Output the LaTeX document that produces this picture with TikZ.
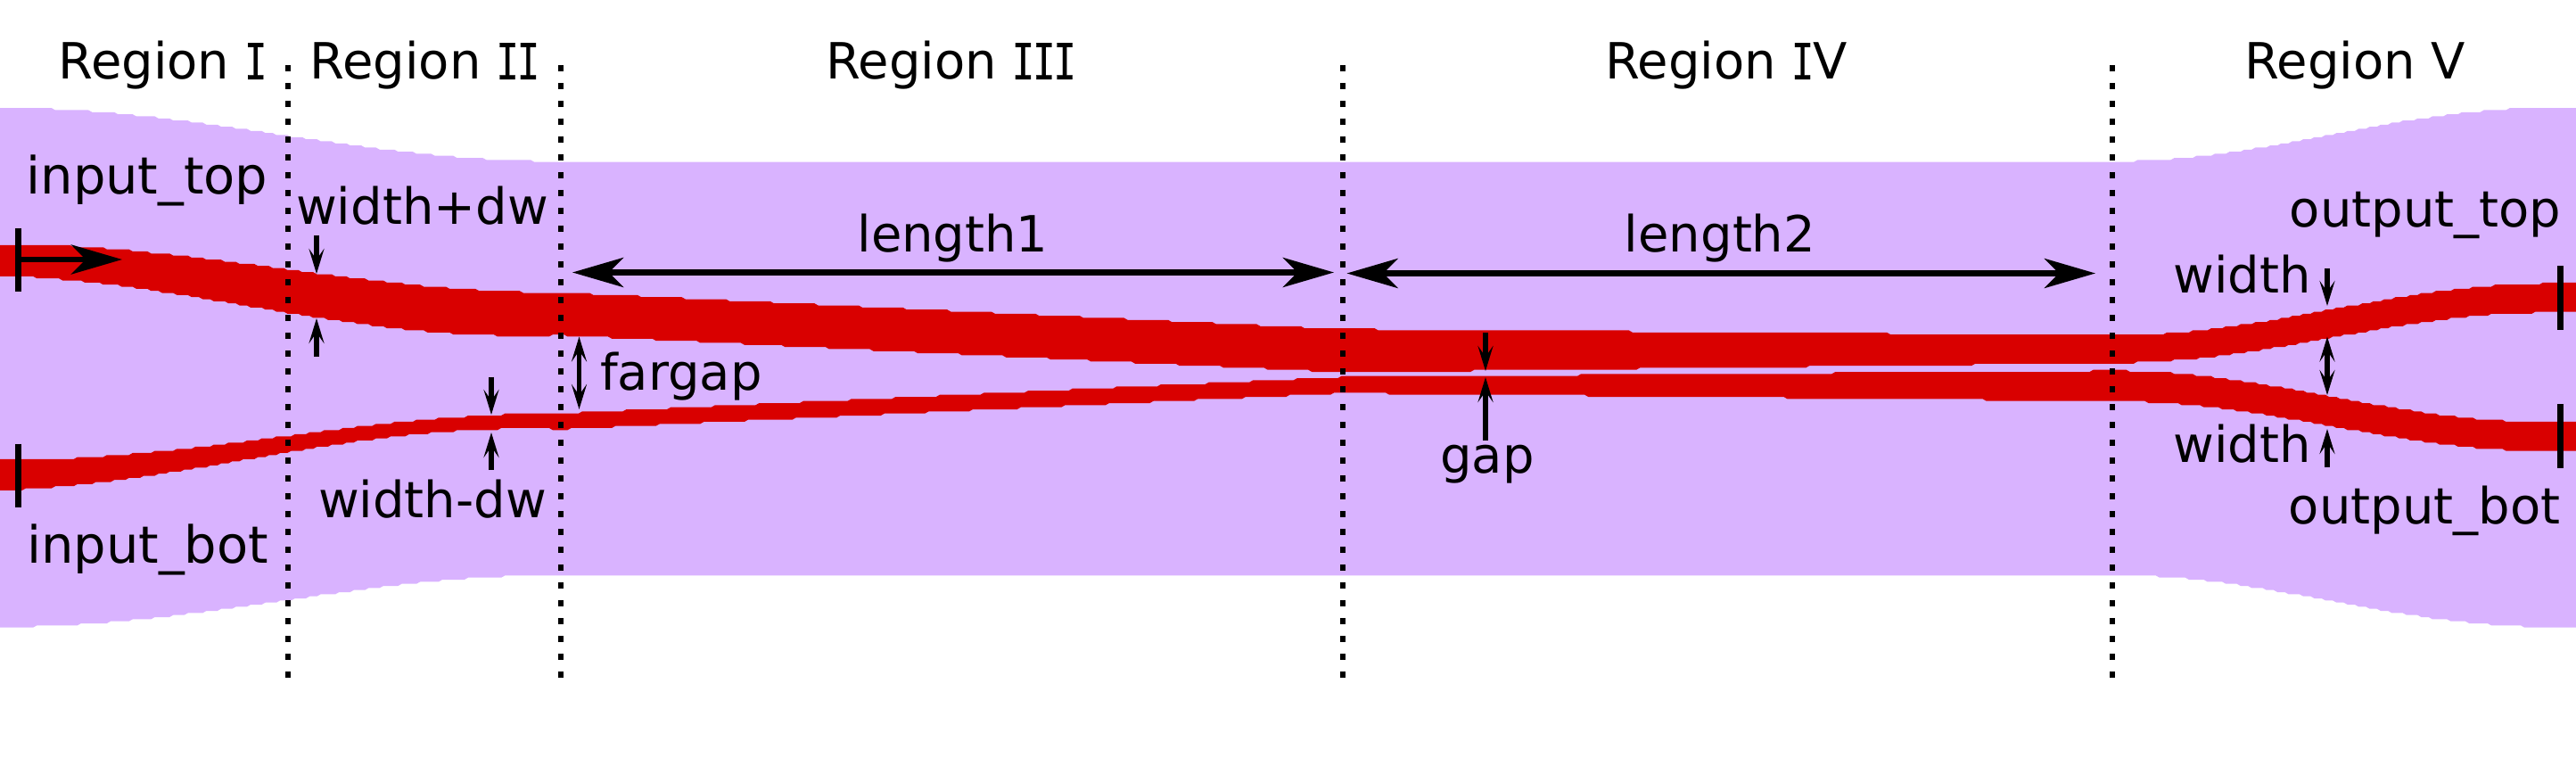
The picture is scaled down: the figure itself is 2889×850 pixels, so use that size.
\documentclass[tikz,border=0pt]{standalone}
\usepackage{fontspec}
\setmainfont{DejaVu Sans}
\newfontfamily\serifedcap[FakeStretch=0.75,FakeBold=0.5]{DejaVu Sans Mono}
\newcommand{\capI}{\kern-1pt{\serifedcap I}\kern-1pt}
\usetikzlibrary{arrows.meta}
\tikzset{
  declare function={
    sl(\x)=(1-cos(\x/629*180))/2;
    sr(\x)=(1-cos(min(1,(\x-2369)/491)*180))/2;
    edgey(\x,\a,\b,\c,\d,\e,\k)=(\x<629)?(\a+(\b-\a)*sl(\x)+\k*sin(\x/629*180)):((\x<1506)?(\b+(\x-629)/877*(\c-\b)):((\x<2369)?(\c+(\x-1506)/863*(\d-\c)):(\d+(\e-\d)*sr(\x))));
    stair(\y)=round(\y/2.33)*2.33;
  },
  lbl/.style={font=\fontsize{56}{60}\selectfont,anchor=base,inner sep=0pt,text=black},
  lblwide/.style={lbl,font=\fontsize{57.5}{60}\selectfont},
  divider/.style={line width=6.5pt,dash pattern=on 7pt off 13pt,draw=black},
  bigarrow/.style={line width=6.5pt,draw=black,-{Stealth[length=57pt,width=33pt,inset=16pt]}},
  bigboth/.style={line width=6.5pt,draw=black,{Stealth[length=57pt,width=33pt,inset=16pt]}-{Stealth[length=57pt,width=33pt,inset=16pt]}},
  smallarrow/.style={line width=6.5pt,draw=black,-{Stealth[length=28pt,width=17pt,inset=12pt]}},
  smallboth/.style={line width=5pt,draw=black,{Stealth[length=28pt,width=17pt,inset=12pt]}-{Stealth[length=28pt,width=17pt,inset=12pt]}},
  porttick/.style={line width=7pt,draw=black},
}
\definecolor{cladcol}{HTML}{D9B3FF}
\definecolor{corecol}{HTML}{D90000}
\begin{document}
\begin{tikzpicture}[x=1pt,y=-1pt]
\useasboundingbox (0,0) rectangle (2889,850);
% cladding
\fill[cladcol]
  plot[domain=0:2889,samples=700] (\x,{stair(edgey(\x,121,181,181,181,121,0))})
  -- plot[domain=2889:0,samples=700] (\x,{stair(edgey(\x,703,645,645,645,703,0))}) -- cycle;
% top waveguide
\fill[corecol]
  plot[domain=0:2889,samples=700] (\x,{stair(edgey(\x,274,328,369,376,318,0))})
  -- plot[domain=2889:0,samples=700] (\x,{stair(edgey(\x,309,376,417.7,407,350.5,7))}) -- cycle;
% bottom waveguide
\fill[corecol]
  plot[domain=0:2889,samples=700] (\x,{stair(edgey(\x,516,463.5,422.7,415.7,473.5,0))})
  -- plot[domain=2889:0,samples=700] (\x,{stair(edgey(\x,550,481.5,441,450,506,-7))}) -- cycle;
% region dividers
\foreach \n/\px in {a/323,b/629,c/1506,d/2369}{
  \coordinate (div\n t) at (\px,73);
  \coordinate (div\n b) at (\px,760);
  \draw[divider] (div\n t) -- (div\n b);
}
% port ticks
\coordinate (p1a) at (20,256);    \coordinate (p1b) at (20,327.5);
\coordinate (p2a) at (20,497.5);  \coordinate (p2b) at (20,569);
\coordinate (p3a) at (2871.5,298.5); \coordinate (p3b) at (2871.5,370);
\coordinate (p4a) at (2871.5,453);   \coordinate (p4b) at (2871.5,524.5);
\draw[porttick] (p1a) -- (p1b);
\draw[porttick] (p2a) -- (p2b);
\draw[porttick] (p3a) -- (p3b);
\draw[porttick] (p4a) -- (p4b);
% input arrow
\coordinate (ia) at (20,291); \coordinate (ib) at (137,291);
\draw[bigarrow] (ia) -- (ib);
% length arrows
\coordinate (l1a) at (642,305.5);  \coordinate (l1b) at (1496,305.5);
\coordinate (l2a) at (1510.5,306.5); \coordinate (l2b) at (2350,306.5);
\draw[bigboth] (l1a) -- (l1b);
\draw[bigboth] (l2a) -- (l2b);
% width+dw
\coordinate (wa1) at (355,264); \coordinate (wa2) at (355,307);
\coordinate (wa3) at (355,400); \coordinate (wa4) at (355,357);
\draw[smallarrow] (wa1) -- (wa2);
\draw[smallarrow] (wa3) -- (wa4);
% width-dw
\coordinate (wb1) at (551,422.5); \coordinate (wb2) at (551,465);
\coordinate (wb3) at (551,527);   \coordinate (wb4) at (551,485);
\draw[smallarrow] (wb1) -- (wb2);
\draw[smallarrow] (wb3) -- (wb4);
% fargap
\coordinate (fa) at (649.5,377.5); \coordinate (fb) at (649.5,459);
\draw[smallboth] (fa) -- (fb);
% gap
\coordinate (ga1) at (1666,373); \coordinate (ga2) at (1666,416);
\coordinate (ga3) at (1666,494); \coordinate (ga4) at (1666,423);
\draw[smallarrow] (ga1) -- (ga2);
\draw[smallarrow] (ga3) -- (ga4);
% right-hand width and gap
\coordinate (ra1) at (2610,301); \coordinate (ra2) at (2610,343);
\coordinate (ra3) at (2610,524); \coordinate (ra4) at (2610,481);
\coordinate (ra5) at (2610,377.5); \coordinate (ra6) at (2610,443);
\draw[smallarrow] (ra1) -- (ra2);
\draw[smallarrow] (ra3) -- (ra4);
\draw[smallboth,line width=6.5pt] (ra5) -- (ra6);
% labels
\node[lbl] (r1) at (182,89) {Region \capI};
\node[lbl] (r2) at (476,89) {Region \capI\capI};
\node[lbl] (r3) at (1066,89) {Region \capI\capI\capI};
\node[lbl] (r4) at (1936,89) {Region \capI V};
\node[lbl] (r5) at (2641,89) {Region V};
\node[lblwide] (itop) at (165,218) {input\_top};
\node[lblwide] (ibot) at (165.5,631) {input\_bot};
\node[lbl] (wplus) at (473.5,251.5) {width+dw};
\node[lbl] (wminus) at (485,580) {width-dw};
\node[lbl] (fg) at (764,437) {fargap};
\node[lbl] (len1) at (1068.5,283) {length1};
\node[lbl] (len2) at (1929,283) {length2};
\node[lbl] (gp) at (1668,530) {gap};
\node[lbl] (otop) at (2720,255) {output\_top};
\node[lbl] (obot) at (2719,587) {output\_bot};
\node[lbl] (wt) at (2514.5,329) {width};
\node[lbl] (wbt) at (2514.5,518) {width};
\end{tikzpicture}
\end{document}
